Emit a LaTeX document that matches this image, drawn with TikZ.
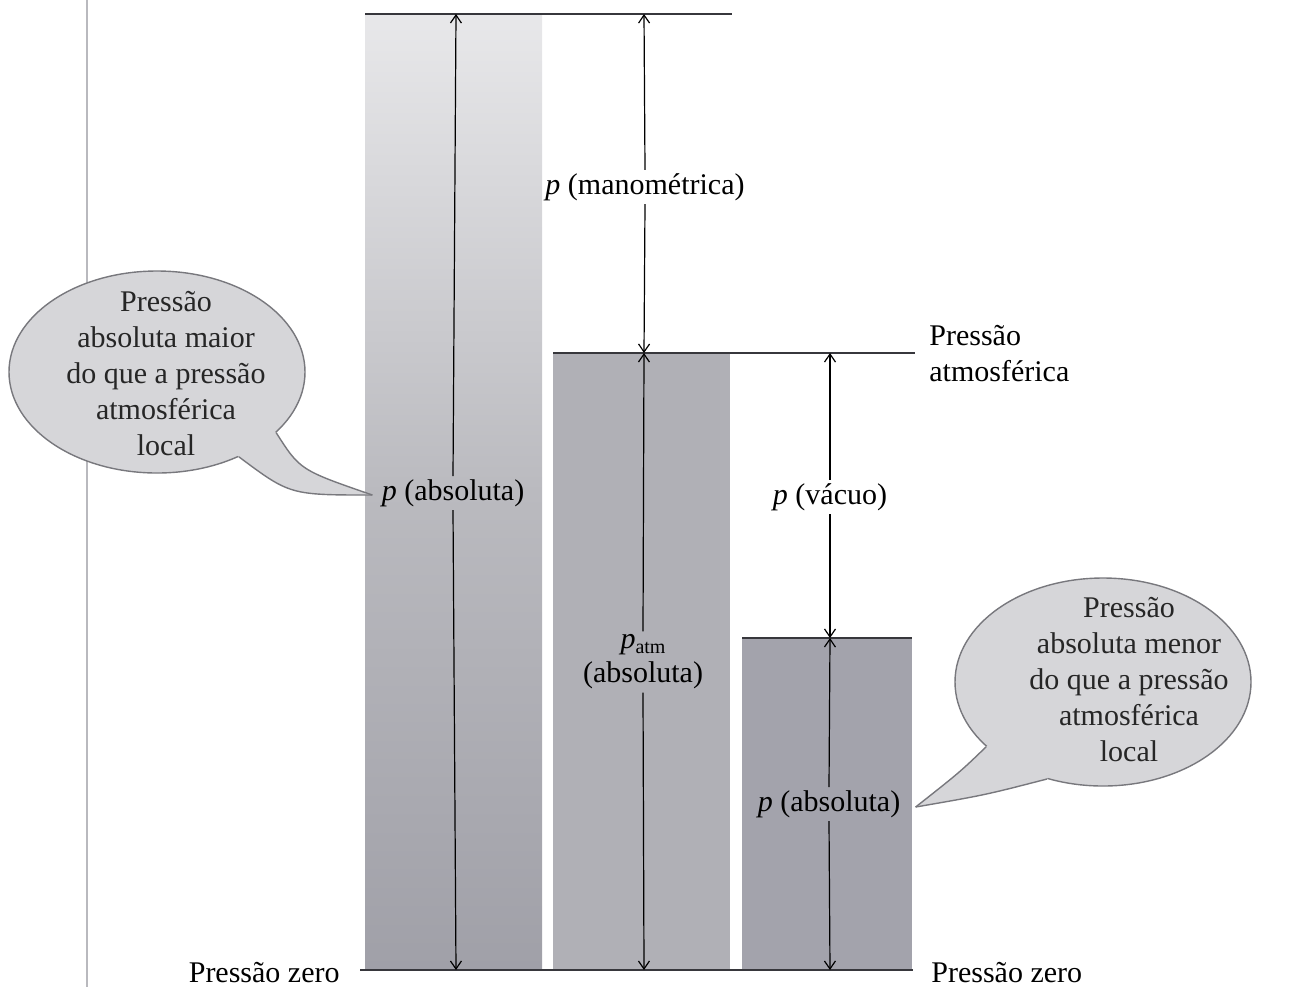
\documentclass[tikz,border=0pt]{standalone}
\usepackage{fontspec}
\setmainfont{Liberation Serif}
\usetikzlibrary{arrows.meta,shapes.geometric,calc}
\definecolor{barA}{RGB}{232,232,234}
\definecolor{barAm}{RGB}{186,186,191}
\definecolor{barB}{RGB}{160,160,168}
\definecolor{barTwo}{RGB}{176,176,182}
\definecolor{barThree}{RGB}{163,163,172}
\definecolor{callfill}{RGB}{214,214,217}
\definecolor{calledge}{RGB}{120,120,125}
\definecolor{linecol}{RGB}{55,55,60}
\definecolor{leftline}{RGB}{185,185,190}
\tikzset{
  lvl/.style={draw=linecol, line width=1.1pt},
  dim/.style={draw=black, line width=0.6pt, -{Straight Barb[length=4pt,width=5.5pt,line width=0.6pt]}},
  lab/.style={font=\fontsize{15}{18}\selectfont, inner sep=1.5pt, align=center},
  calltext/.style={font=\fontsize{15}{18}\selectfont, align=center, text=black!85},
  callout/.style={ellipse, fill=callfill, draw=calledge, line width=0.7pt, inner sep=0pt},
  tailfill/.style={fill=callfill},
  tailedge/.style={draw=calledge, line width=0.7pt},
}
\begin{document}
\begin{tikzpicture}[x=0.5pt,y=-0.5pt]
\useasboundingbox (0,0) rectangle (1289,987);
% thin left line
\draw[leftline, line width=0.6pt] (87,0) -- (87,987);
% bars
\shade[top color=barA, bottom color=barB, middle color=barAm] (365,14) rectangle (542,970);
\fill[barTwo] (553,353) rectangle (730,970);
\fill[barThree] (742,638) rectangle (912,970);
% level lines
\coordinate (t1) at (365,14);
\coordinate (t2) at (732,14);
\coordinate (a1) at (553,353);
\coordinate (a2) at (915,353);
\coordinate (v1) at (742,638);
\coordinate (v2) at (912,638);
\coordinate (b1) at (360,970);
\coordinate (b2) at (913,970);
\draw[lvl] (t1) -- (t2);
\draw[lvl] (a1) -- (a2);
\draw[lvl] (v1) -- (v2);
\draw[lvl] (b1) -- (b2);
% dimension end points
\coordinate (d1t) at (456,14);
\coordinate (d1b) at (456,970);
\coordinate (d2t) at (644,14);
\coordinate (d2m) at (644,353);
\coordinate (d2b) at (644,970);
\coordinate (d3t) at (830,353);
\coordinate (d3m) at (830,638);
\coordinate (d3b) at (830,970);
% labels
\node[lab] (pabs1) at (453,493) {\textit{p} (absoluta)};
\node[lab] (pman) at (645,187) {\textit{p} (manométrica)};
\node[lab] (patm) at (643,662) {\textit{p}\raisebox{-0.35ex}{\fontsize{10}{10}\selectfont atm}\\[-1pt](absoluta)};
\node[lab] (pvac) at (830,497) {\textit{p} (vácuo)};
\node[lab] (pabs2) at (829,804) {\textit{p} (absoluta)};
% dimension arrows
\draw[dim] (pabs1.north) -- (d1t);
\draw[dim] (pabs1.south) -- (d1b);
\draw[dim] (pman.north) -- (d2t);
\draw[dim] (pman.south) -- (d2m);
\draw[dim] (patm.north) -- (d2m);
\draw[dim] (patm.south) -- (d2b);
\draw[dim] (pvac.north) -- (d3t);
\draw[dim] (pvac.south) -- (d3m);
\draw[dim] (pabs2.north) -- (d3m);
\draw[dim] (pabs2.south) -- (d3b);
% side texts
\node[lab, anchor=base east] (z1) at (343,982) {Pressão zero};
\node[lab, anchor=base west] (z2) at (928,982) {Pressão zero};
\node[lab, anchor=west, align=left] (patmtxt) at (926,354) {Pressão\\atmosférica};
% callout 1
\node[callout, minimum width=148pt, minimum height=101pt] (c1) at (157,372) {};
\coordinate (tip1) at ($(pabs1.west)+(-6,2)$);
\fill[tailfill] (c1.-27) .. controls (300,470) .. (tip1) .. controls (290,495) .. (c1.-46) -- (c1.center) -- cycle;
\draw[tailedge] (c1.-27) .. controls (300,470) .. (tip1);
\draw[tailedge] (c1.-46) .. controls (290,495) .. (tip1);
\node[calltext] (c1t) at (166,374) {Pressão\\absoluta maior\\do que a pressão\\atmosférica\\local};
% callout 2
\node[callout, minimum width=148pt, minimum height=104pt] (c2) at (1103,682) {};
\coordinate (tip2) at ($(pabs2.east)+(12,3)$);
\fill[tailfill] (c2.209) .. controls (960,772) .. (tip2) .. controls (985,795) .. (c2.240) -- (c2.center) -- cycle;
\draw[tailedge] (c2.209) .. controls (960,772) .. (tip2);
\draw[tailedge] (c2.240) .. controls (985,795) .. (tip2);
\node[calltext] (c2t) at (1129,680) {Pressão\\absoluta menor\\do que a pressão\\atmosférica\\local};
\end{tikzpicture}
\end{document}
